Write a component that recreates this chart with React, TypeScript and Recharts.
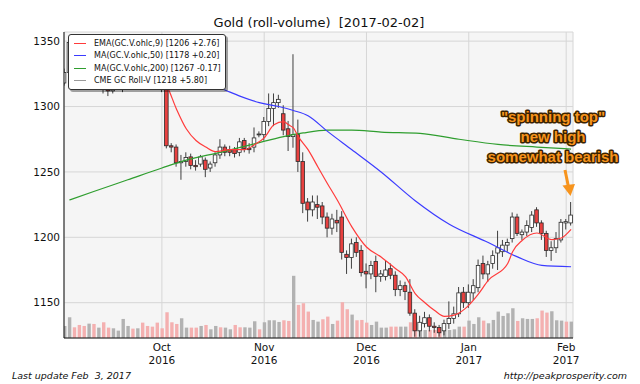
import React from 'react';
import { ComposedChart, Bar, Line, XAxis, YAxis, CartesianGrid, Legend, Cell } from 'recharts';

// trading days shown on the chart (x = index into this list)
const dates = [
  '2016-09-02', '2016-09-06', '2016-09-07', '2016-09-08', '2016-09-09', '2016-09-12', '2016-09-13', '2016-09-14', '2016-09-15', '2016-09-16',
  '2016-09-19', '2016-09-20', '2016-09-21', '2016-09-22', '2016-09-23', '2016-09-26', '2016-09-27', '2016-09-28', '2016-09-29', '2016-09-30',
  '2016-10-03', '2016-10-04', '2016-10-05', '2016-10-06', '2016-10-07', '2016-10-10', '2016-10-11', '2016-10-12', '2016-10-13', '2016-10-14',
  '2016-10-17', '2016-10-18', '2016-10-19', '2016-10-20', '2016-10-21', '2016-10-24', '2016-10-25', '2016-10-26', '2016-10-27', '2016-10-28',
  '2016-10-31', '2016-11-01', '2016-11-02', '2016-11-03', '2016-11-04', '2016-11-07', '2016-11-08', '2016-11-09', '2016-11-10', '2016-11-11',
  '2016-11-14', '2016-11-15', '2016-11-16', '2016-11-17', '2016-11-18', '2016-11-21', '2016-11-22', '2016-11-23', '2016-11-25', '2016-11-28',
  '2016-11-29', '2016-11-30', '2016-12-01', '2016-12-02', '2016-12-05', '2016-12-06', '2016-12-07', '2016-12-08', '2016-12-09', '2016-12-12',
  '2016-12-13', '2016-12-14', '2016-12-15', '2016-12-16', '2016-12-19', '2016-12-20', '2016-12-21', '2016-12-22', '2016-12-23', '2016-12-27',
  '2016-12-28', '2016-12-29', '2016-12-30', '2017-01-03', '2017-01-04', '2017-01-05', '2017-01-06', '2017-01-09', '2017-01-10', '2017-01-11',
  '2017-01-12', '2017-01-13', '2017-01-17', '2017-01-18', '2017-01-19', '2017-01-20', '2017-01-23', '2017-01-24', '2017-01-25', '2017-01-26',
  '2017-01-27', '2017-01-30', '2017-01-31', '2017-02-01', '2017-02-02',
];

const opens = [
  1318, 1326, 1349, 1347, 1340, 1331, 1336, 1324, 1326, 1316,
  1312, 1317, 1318, 1327, 1339, 1338, 1341, 1328, 1324, 1322,
  1317, 1314, 1270, 1269, 1257, 1258, 1261.5, 1255, 1256, 1259,
  1253, 1257, 1263, 1269, 1267, 1267, 1265, 1274, 1268, 1269,
  1278.5, 1278.5, 1288.5, 1298.5, 1303, 1294.5, 1283, 1277, 1278.5, 1258,
  1227, 1221, 1225, 1224, 1215.5, 1207, 1213, 1215.5, 1187, 1184.5,
  1196, 1190, 1174, 1172, 1181.5, 1170, 1170, 1176, 1171, 1160,
  1163, 1158, 1142, 1128.5, 1134, 1138.5, 1132, 1131, 1128.5, 1134,
  1138, 1141.5, 1158, 1150, 1157.5, 1161.5, 1180, 1172, 1180, 1188,
  1189, 1194, 1199, 1215.5, 1202, 1204, 1207.5, 1221, 1211, 1203,
  1190, 1192, 1198, 1211, 1211,
];
const highs = [
  1329, 1352, 1353, 1350, 1343, 1338, 1338, 1331, 1328, 1319,
  1321, 1322, 1334, 1344, 1345, 1346, 1343, 1331, 1328, 1325,
  1320, 1316, 1272, 1271, 1263, 1265, 1264, 1259, 1263, 1261,
  1258, 1265, 1275, 1271, 1270, 1269, 1276, 1276, 1272, 1284,
  1281, 1292, 1310, 1310, 1309, 1301, 1289, 1340, 1290, 1265,
  1230, 1232, 1232, 1227, 1219, 1218, 1221, 1220, 1190, 1199,
  1200, 1194, 1180, 1182, 1186, 1175, 1182, 1180, 1174, 1167,
  1166, 1168, 1145, 1140, 1143, 1141, 1135, 1133, 1137, 1151,
  1147, 1162, 1162, 1164, 1168, 1183, 1186, 1182, 1190, 1205,
  1198, 1199, 1219, 1218, 1206, 1213, 1220, 1223, 1213, 1205,
  1197, 1204, 1214, 1214, 1227,
];
const lows = [
  1316, 1324, 1341, 1336, 1329, 1326, 1321, 1318, 1310, 1308,
  1310, 1313, 1311, 1325, 1334, 1335, 1325, 1320, 1316, 1315,
  1311, 1268, 1265, 1254, 1244, 1254, 1252, 1251, 1254, 1246,
  1250, 1254, 1260, 1262, 1262, 1261, 1262, 1265, 1264, 1265,
  1276.5, 1274, 1285, 1285, 1299, 1278, 1266, 1268.5, 1250, 1218.5,
  1212, 1216, 1214, 1210, 1200, 1202, 1204, 1183, 1172, 1176,
  1185, 1170, 1161, 1168, 1158, 1166, 1167, 1168, 1155, 1155,
  1152, 1140, 1124, 1124, 1131, 1128, 1127, 1124, 1125, 1130,
  1134, 1139, 1146, 1146, 1152, 1158, 1168, 1166, 1176, 1175,
  1185, 1189, 1196, 1201, 1198, 1201, 1204, 1208, 1198, 1185,
  1182, 1188, 1196, 1206, 1209,
];
const closes = [
  1326, 1349, 1347, 1340, 1334, 1336, 1324, 1326, 1316, 1312,
  1317, 1318, 1327, 1339, 1338, 1341, 1328, 1324, 1322, 1317,
  1314, 1270, 1269, 1257, 1258, 1261, 1255, 1254, 1261.5, 1252,
  1256, 1263, 1269, 1265, 1265, 1264, 1273, 1268, 1267, 1276,
  1279, 1288.5, 1298.5, 1303, 1305.5, 1282, 1277, 1278.5, 1258, 1226,
  1221, 1227, 1223, 1215.5, 1207, 1214, 1211, 1188.5, 1184.5, 1195,
  1188.5, 1173, 1172, 1178.5, 1170, 1172, 1175, 1171, 1160, 1163,
  1158.5, 1142, 1128.5, 1135, 1138.5, 1132, 1131, 1127, 1134, 1138,
  1141.5, 1157.5, 1150, 1158, 1163, 1178.5, 1172, 1179, 1186, 1192,
  1194, 1196, 1215.5, 1203, 1204, 1209, 1217, 1211, 1203, 1190,
  1192, 1199, 1211.5, 1212, 1217,
];

// volume, thousand contracts
const volumes = [
  180, 310, 160, 195, 180, 215, 210, 155, 235, 155,
  145, 110, 285, 180, 140, 145, 230, 180, 170, 230,
  145, 385, 235, 210, 295, 155, 155, 155, 180, 195,
  130, 180, 160, 155, 130, 195, 160, 160, 155, 250,
  130, 235, 265, 265, 240, 265, 255, 930, 495, 520,
  395, 270, 245, 280, 320, 210, 260, 535, 430, 350,
  265, 270, 230, 195, 245, 155, 155, 170, 170, 170,
  170, 235, 245, 130, 120, 120, 120, 105, 110, 120,
  130, 170, 170, 260, 210, 310, 260, 220, 270, 395,
  330, 370, 445, 255, 295, 285, 285, 295, 410, 380,
  400, 265, 260, 245, 245,
];
// volume bar shade: u = grey (up day), d = pink (down day)
const volumeDir = [
  'uudddududd', 'uuuududddd', 'dddduuddud', 'uuduudduuu', 'duuuuddudd',
  'duudduddd' + 'u', 'ddduuuuddu', 'udduuddduu', 'uuduuuduuu', 'uuuduuuddd',
  'uuudu',
].join('');

// indicator readings [day index, price]
const emaPoints: [number, number][] = [
  [1, 1322], [5, 1333], [10, 1322], [15, 1330], [20, 1322], [21, 1316], [23, 1298], [25, 1283], [27, 1274],
  [29, 1269], [31, 1265.5], [34, 1267], [37, 1267], [39, 1270.8], [41, 1276], [43, 1286], [45, 1288.5],
  [46, 1286], [47, 1283.6], [48, 1277], [50, 1267], [52, 1254], [54, 1241], [56, 1228.5], [59, 1208],
  [62, 1192.6], [65, 1185], [68, 1176], [70, 1170], [72, 1157], [74, 1150], [76, 1144], [78, 1139.5],
  [80, 1140.5], [83, 1148], [85, 1156.7], [87, 1167], [91, 1180], [92, 1189], [94, 1197.7], [97, 1203.3],
  [100, 1198.3], [102, 1199.5], [104, 1206],
];
const ma50Points: [number, number][] = [
  [1, 1338], [10, 1332], [20, 1325], [28, 1319], [32, 1314], [36, 1308], [40, 1303], [44, 1300], [47, 1297],
  [50, 1293], [54, 1281], [59, 1267], [65, 1250], [72, 1228], [79, 1210], [87, 1196], [93, 1185],
  [98, 1178.5], [104, 1177.5],
];
const ma200Points: [number, number][] = [
  [1, 1228.5], [6, 1235], [13, 1244], [20, 1253], [25, 1259], [32, 1265], [39, 1271.5], [45, 1277],
  [49, 1279.8], [54, 1282], [59, 1282], [65, 1280.5], [73, 1279.5], [81, 1275], [89, 1271], [97, 1269],
  [104, 1267.5],
];

const priceTicks = [1150, 1200, 1250, 1300, 1350];
const tickMonths = ['Oct', 'Nov', 'Dec', 'Jan', 'Feb'];
const tickYears = ['2016', '2016', '2016', '2017', '2017'];

const legendItems = [
  { name: 'EMA(GC.V.ohlc,9) [1206 +2.76]', color: '#ff3b3b' },
  { name: 'MA(GC.V.ohlc,50) [1178 +0.20]', color: '#3b3bff' },
  { name: 'MA(GC.V.ohlc,200) [1267 -0.17]', color: '#2f9e2f' },
  { name: 'CME GC Roll-V [1218 +5.80]', color: '#9a9a9a' },
];
const noteLines = ['"spinning top"', 'new high', 'somewhat bearish'];

const FONT = 'DejaVu Sans, sans-serif';

const monthTicks = dates
  .map((d, i) => (i > 0 && d.slice(5, 7) !== dates[i - 1].slice(5, 7) ? i : -1))
  .filter((i) => i >= 0);

const emaMap = new Map(emaPoints);
const ma50Map = new Map(ma50Points);
const ma200Map = new Map(ma200Points);

const rows = dates.map((d, i) => ({
  i,
  date: d,
  o: opens[i],
  h: highs[i],
  l: lows[i],
  c: closes[i],
  range: [lows[i], highs[i]],
  vol: volumes[i],
  up: volumeDir[i] !== 'd',
  ema: emaMap.get(i) ?? null,
  ma50: ma50Map.get(i) ?? null,
  ma200: ma200Map.get(i) ?? null,
}));

const Candle = (props: any) => {
  const { x, y, width, height, payload } = props;
  if (!payload || x == null) return null;
  const { o, h, l, c } = payload;
  const top = Math.min(y, y + height);
  const span = Math.abs(height);
  const k = h > l ? span / (h - l) : 0;
  const cx = x + width / 2;
  const bTop = top + (h - Math.max(o, c)) * k;
  const bBot = top + (h - Math.min(o, c)) * k;
  const bw = 3.6;
  return (
    <g>
      <line x1={cx} x2={cx} y1={top} y2={top + span} stroke="#2b2b2b" strokeWidth={0.9} />
      <rect
        x={cx - bw / 2}
        y={bTop}
        width={bw}
        height={Math.max(bBot - bTop, 0.9)}
        fill={c < o ? '#e8403f' : '#ffffff'}
        stroke="#2b2b2b"
        strokeWidth={0.8}
      />
    </g>
  );
};

const MonthTick = (props: any) => {
  const { x, y, payload } = props;
  const k = monthTicks.indexOf(payload.value);
  return (
    <g>
      <text x={x} y={y + 13} textAnchor="middle" fontSize={10.5} fill="#111" fontFamily={FONT}>
        {tickMonths[k]}
      </text>
      <text x={x} y={y + 26} textAnchor="middle" fontSize={10.5} fill="#111" fontFamily={FONT}>
        {tickYears[k]}
      </text>
    </g>
  );
};

const LegendBox = () => (
  <div
    style={{
      background: '#fff',
      border: '1px solid #333',
      borderRadius: 3,
      boxShadow: '2px 2px 0 rgba(0,0,0,0.35)',
      padding: '2px 0 2px 0',
      fontFamily: FONT,
      fontSize: 8,
      color: '#111',
    }}
  >
    {legendItems.map((it) => (
      <div key={it.name} style={{ display: 'flex', alignItems: 'center', height: 12.5 }}>
        <span style={{ display: 'inline-block', width: 12, height: 0, borderTop: `1.3px solid ${it.color}`, margin: '0 8px 0 5px' }} />
        <span style={{ whiteSpace: 'pre' }}>{it.name}</span>
      </div>
    ))}
  </div>
);

export default function App() {
  return (
    <div style={{ position: 'absolute', left: 0, top: 0, width: 640, height: 384, background: '#fff', fontFamily: FONT }}>
      <ComposedChart width={640} height={384} data={rows} margin={{ top: 32, right: 67, bottom: 16, left: 4 }}>
        <XAxis
          xAxisId="c"
          dataKey="i"
          type="number"
          domain={[-0.1, 104.4]}
          allowDataOverflow
          ticks={monthTicks}
          interval={0}
          tick={<MonthTick />}
          tickSize={0}
          tickMargin={0}
          tickLine={false}
          height={30}
          axisLine={{ stroke: '#111' }}
        />
        <XAxis
          xAxisId="v"
          dataKey="i"
          type="number"
          orientation="top"
          domain={[-0.1, 104.4]}
          allowDataOverflow
          height={0}
          tick={false}
          tickLine={false}
          axisLine={{ stroke: '#111' }}
        />
        <YAxis
          yAxisId="p"
          domain={[1123, 1357]}
          allowDataOverflow
          ticks={priceTicks}
          width={60}
          tickSize={0}
          tickMargin={4}
          tickLine={false}
          tick={{ fontSize: 10.5, fill: '#111', fontFamily: FONT }}
          axisLine={{ stroke: '#111' }}
        />
        <YAxis
          yAxisId="v"
          orientation="right"
          domain={[0, 4575]}
          allowDataOverflow
          width={0}
          tick={false}
          tickLine={false}
          axisLine={{ stroke: '#111' }}
        />
        <CartesianGrid xAxisId="c" yAxisId="p" stroke="#d6d6d6" fill="#f5f5f5" />
        <Legend
          layout="vertical"
          align="center"
          verticalAlign="middle"
          content={() => <LegendBox />}
          wrapperStyle={{ left: 68, top: 34, width: 158 }}
        />
        <Bar xAxisId="v" yAxisId="v" dataKey="vol" barSize={3.4} isAnimationActive={false}>
          {rows.map((r) => (
            <Cell key={r.i} fill={r.up ? '#b2b2b2' : '#f4b0b0'} />
          ))}
        </Bar>
        <Bar xAxisId="c" yAxisId="p" dataKey="range" barSize={4} shape={<Candle />} isAnimationActive={false} />
        <Line xAxisId="c" yAxisId="p" dataKey="ma200" type="monotone" connectNulls dot={false} stroke="#2f9e2f" strokeWidth={1.2} isAnimationActive={false} />
        <Line xAxisId="c" yAxisId="p" dataKey="ma50" type="monotone" connectNulls dot={false} stroke="#3b3bff" strokeWidth={1.2} isAnimationActive={false} />
        <Line xAxisId="c" yAxisId="p" dataKey="ema" type="monotone" connectNulls dot={false} stroke="#ff3b3b" strokeWidth={1.2} isAnimationActive={false} />
      </ComposedChart>
      <svg width={640} height={384} style={{ position: 'absolute', left: 0, top: 0, pointerEvents: 'none' }}>
        <text x={319} y={27} textAnchor="middle" fontSize={13} fill="#111" fontFamily={FONT}>
          {'Gold (roll-volume) \u00a0[2017-02-02]'}
        </text>
        <text x={12} y={379} fontSize={9.5} fontStyle="italic" fill="#111" fontFamily={FONT}>
          {'Last update Feb \u00a03, 2017'}
        </text>
        <text x={627} y={379} textAnchor="end" fontSize={9.5} fontStyle="italic" fill="#111" fontFamily={FONT}>
          http://peakprosperity.com
        </text>
        {noteLines.map((t, k) => (
          <text
            key={t}
            x={553}
            y={122 + k * 20}
            textAnchor="middle"
            fontSize={15}
            fontWeight="bold"
            fontFamily="Liberation Sans, Arial, sans-serif"
            fill="#f7941d"
            stroke="#3a2200"
            strokeWidth={3}
            strokeLinejoin="round"
            style={{ paintOrder: 'stroke' }}
          >
            {t}
          </text>
        ))}
        <line x1={565} y1={170} x2={568.5} y2={187} stroke="#f7941d" strokeWidth={3} />
        <path d="M562.5,185.5 L575,184 L570.5,196 Z" fill="#f7941d" />
      </svg>
    </div>
  );
}
